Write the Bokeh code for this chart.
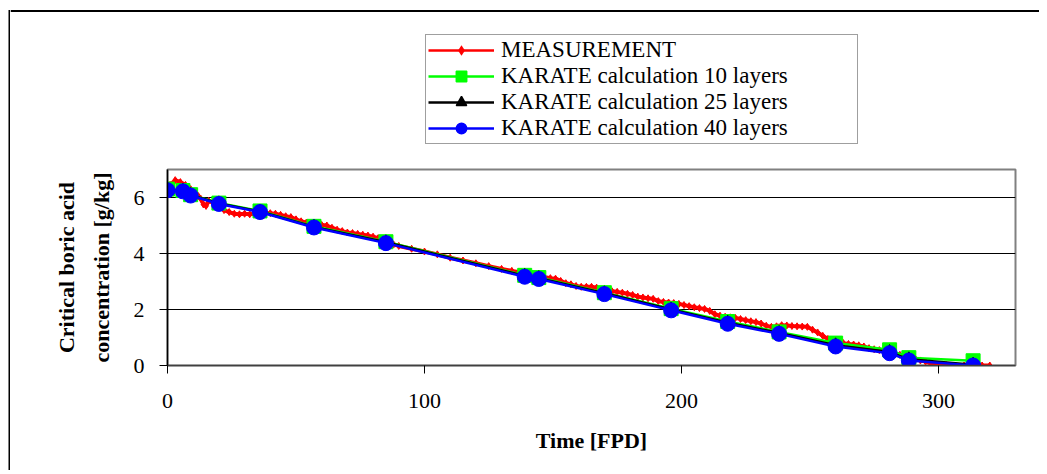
from bokeh.plotting import figure
from bokeh.layouts import row, column
from bokeh.models import Range1d, FixedTicker, Legend, LegendItem
from bokeh.embed import file_html
from bokeh.resources import INLINE

# ---------------- data ----------------
meas_x = [1, 3, 5, 7, 9, 11, 12, 13, 14, 15, 16, 18, 20, 22, 24, 26, 28, 30, 32, 34,
          36, 38, 40, 42, 44, 46, 48, 50, 52, 54, 56, 58, 60, 62, 64, 66, 68, 70, 72, 74,
          76, 78, 80, 82, 84, 86, 88, 90, 95, 100, 105, 110, 115, 120, 125, 130, 134, 137,
          140, 143, 146, 149, 151, 153, 155, 157, 159, 161, 163, 165, 167, 169, 171, 173,
          175, 177, 179, 181, 183, 185, 187, 189, 191, 193, 195, 197, 199, 201, 203, 205,
          207, 209, 211, 213, 215, 217, 219, 221, 223, 225, 227, 229, 231, 233, 235, 237,
          239, 241, 243, 245, 247, 249, 251, 253, 255, 257, 259, 261, 263, 265, 267, 269,
          271, 273, 275, 277, 279, 281, 283, 285, 287, 289, 291, 293, 295, 297, 300, 303,
          306, 310, 314, 317, 320]
meas_y = [6.45, 6.62, 6.55, 6.45, 6.30, 6.15, 6.05, 5.95, 5.75, 5.70, 5.88, 5.80, 5.72,
          5.55, 5.48, 5.42, 5.40, 5.42, 5.40, 5.42, 5.45, 5.45, 5.44, 5.42, 5.38, 5.33,
          5.30, 5.22, 5.15, 5.10, 5.05, 5.02, 5.02, 5.00, 4.92, 4.85, 4.80, 4.75, 4.73,
          4.70, 4.67, 4.64, 4.60, 4.55, 4.48, 4.40, 4.32, 4.27, 4.17, 4.07, 3.97, 3.85,
          3.75, 3.65, 3.55, 3.45, 3.38, 3.33, 3.27, 3.22, 3.17, 3.12, 3.10, 3.02, 2.94,
          2.90, 2.84, 2.81, 2.81, 2.81, 2.78, 2.70, 2.65, 2.65, 2.63, 2.60, 2.56, 2.52,
          2.46, 2.43, 2.40, 2.38, 2.30, 2.27, 2.25, 2.23, 2.20, 2.16, 2.12, 2.08, 2.05,
          2.02, 1.95, 1.83, 1.78, 1.74, 1.72, 1.70, 1.66, 1.62, 1.58, 1.55, 1.50, 1.42,
          1.38, 1.40, 1.44, 1.43, 1.41, 1.40, 1.39, 1.38, 1.28, 1.18, 1.06, 0.95, 0.88,
          0.83, 0.80, 0.77, 0.75, 0.72, 0.68, 0.62, 0.58, 0.55, 0.50, 0.45, 0.42, 0.38,
          0.35, 0.30, 0.24, 0.18, 0.14, 0.08, 0.02, 0.01, 0.0, 0.0, 0.0, 0.0, 0.0]

calc_x = [0, 6, 9, 20, 36, 57, 85, 139, 144.5, 170, 196, 218, 238, 260, 281, 288.5, 313.5]
calc10_y = [6.30, 6.25, 6.10, 5.80, 5.52, 4.97, 4.42, 3.22, 3.14, 2.60, 2.03, 1.57, 1.20,
            0.80, 0.56, 0.28, 0.17]
calc25_y = [6.28, 6.24, 6.09, 5.79, 5.50, 4.95, 4.40, 3.20, 3.12, 2.58, 2.00, 1.53, 1.16,
            0.72, 0.48, 0.22, 0.03]
calc40_y = [6.26, 6.22, 6.07, 5.77, 5.48, 4.93, 4.37, 3.17, 3.09, 2.55, 1.97, 1.49, 1.13,
            0.68, 0.44, 0.18, 0.00]

x_ticks = [0, 100, 200, 300]
y_ticks = [0, 2, 4, 6]

labels = ["MEASUREMENT", "KARATE calculation 10 layers",
          "KARATE calculation 25 layers", "KARATE calculation 40 layers"]

FONT = "Liberation Serif"

series_styles = [
    dict(color="#FF0000", lw=4, lw_leg=2.5, marker="diamond", leg_marker="diamond", size=7),
    dict(color="#00FF00", lw=2.5, lw_leg=2.5, marker="square", leg_marker="square", size=14),
    dict(color="black", lw=2.5, lw_leg=2.5, marker="triangle", leg_marker="triangle", size=13),
    dict(color="#0000FF", lw=2.5, lw_leg=2.5, marker="circle", leg_marker="circle", size=15),
]

TOP_H = 167
MAIN_H = 303
STRIP_W = 10
MAIN_W = 1029

# ---------------- main plot ----------------
p = figure(width=MAIN_W, height=MAIN_H, x_range=Range1d(0, 330), y_range=Range1d(0, 7),
           output_backend="svg", toolbar_location=None,
           min_border_left=157, min_border_right=24, min_border_top=2,
           min_border_bottom=105)
p.frame_align = False

p.outline_line_color = "#808080"
p.outline_line_width = 2
p.background_fill_color = "white"
p.border_fill_color = "white"

p.xgrid.visible = False
p.ygrid.grid_line_color = "black"
p.ygrid.grid_line_width = 1
p.ygrid.ticker = FixedTicker(ticks=y_ticks)

p.xaxis.ticker = FixedTicker(ticks=x_ticks)
p.yaxis.ticker = FixedTicker(ticks=y_ticks)
for ax in (p.xaxis[0], p.yaxis[0]):
    ax.axis_line_color = "black"
    ax.axis_line_width = 1.5
    ax.major_tick_line_color = "black"
    ax.major_tick_in = 0
    ax.major_tick_out = 8
    ax.minor_tick_line_color = None
    ax.major_label_text_font = FONT
    ax.major_label_text_font_size = "22px"
    ax.major_label_text_color = "black"
    ax.axis_label_text_font = FONT
    ax.axis_label_text_font_size = "22px"
    ax.axis_label_text_font_style = "bold"
    ax.axis_label_text_color = "black"

p.xaxis.axis_line_color = "#404040"
p.xaxis.major_label_standoff = 20
p.xaxis.axis_label = "Time [FPD]"
p.xaxis.axis_label_standoff = 17
p.yaxis.major_label_standoff = 15
p.yaxis.axis_label = "Critical boric acid\nconcentration [g/kg]"
p.yaxis.axis_label_text_line_height = 1.4
p.yaxis.axis_label_standoff = 17

ys = [meas_y, calc10_y, calc25_y, calc40_y]
xs = [meas_x, calc_x, calc_x, calc_x]
for x, y, st in zip(xs, ys, series_styles):
    p.line(x, y, line_color=st["color"], line_width=st["lw"])
    p.scatter(x, y, marker=st["marker"], size=st["size"], fill_color=st["color"],
              line_color=st["color"])

# ---------------- top area with legend ----------------
pt = figure(width=MAIN_W, height=TOP_H, x_range=Range1d(0, MAIN_W), y_range=Range1d(0, TOP_H),
            output_backend="svg", toolbar_location=None, min_border=0,
            x_axis_type=None, y_axis_type=None)
pt.frame_align = False
pt.grid.visible = False
pt.outline_line_color = None
pt.background_fill_color = "white"
pt.border_fill_color = "white"
# chart-area border (top edge)
pt.line([0, MAIN_W], [TOP_H - 10.5, TOP_H - 10.5], line_color="black", line_width=2)

items = []
for i, (lab, st) in enumerate(zip(labels, series_styles)):
    # off-screen samples so that the legend draws each entry's glyphs
    rl = pt.line([-50, -40], [-50, -50], line_color=st["color"], line_width=st["lw_leg"])
    rs = pt.scatter([-45], [-50], marker=st["leg_marker"], fill_color=st["color"],
                    line_color=None if i == 0 else st["color"], line_width=1.5)
    items.append(LegendItem(label=lab, renderers=[rl, rs]))

legend = Legend(items=items, location=(415, 23))
legend.label_text_font = FONT
legend.label_text_font_size = "23px"
legend.label_text_color = "black"
legend.glyph_width = 66
legend.glyph_height = 26
legend.label_height = 25
legend.label_width = 354
legend.label_standoff = 7
legend.spacing = 0
legend.padding = 2
legend.margin = 0
legend.border_line_color = "#404040"
legend.border_line_width = 1
legend.background_fill_color = "white"
legend.background_fill_alpha = 1.0
pt.add_layout(legend, "center")

# chart-area border (left edge)
ps = figure(width=STRIP_W, height=TOP_H + MAIN_H, x_range=Range1d(0, STRIP_W),
            y_range=Range1d(0, TOP_H + MAIN_H),
            output_backend="svg", toolbar_location=None, min_border=0,
            x_axis_type=None, y_axis_type=None)
ps.frame_align = False
ps.grid.visible = False
ps.outline_line_color = None
ps.background_fill_color = "white"
ps.border_fill_color = "white"
ps.quad(left=[8], right=[10], bottom=[0], top=[TOP_H + MAIN_H - 9.5],
        fill_color="black", line_color=None)

layout = row(ps, column(pt, p, spacing=0), spacing=0)

open("out.html", "w").write(file_html(layout, INLINE))
